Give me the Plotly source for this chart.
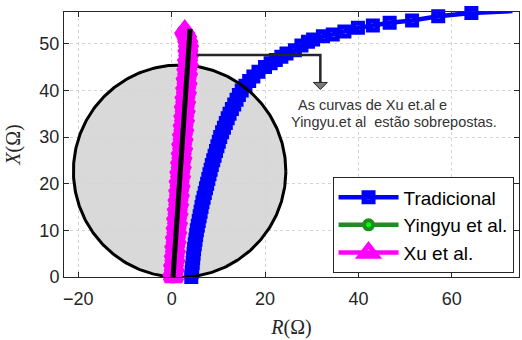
import numpy as np
import plotly.graph_objects as go

# Impedance trajectories seen by the relay (R, X in ohms)
trad_X = [0, 1, 2, 3, 4, 5, 6, 7, 8, 9, 10, 11, 12, 13, 14, 15, 16, 17, 18, 19,
          20, 21, 22, 23, 24, 25, 26, 27, 28, 29, 30, 31, 32, 33, 34, 35, 36, 37,
          38, 39, 40, 41, 42, 43, 44, 45, 45.8, 46.5, 47.2, 47.9, 48.6, 49.6,
          50.4, 50.9, 51.6, 52.0, 52.6, 53.4, 53.9, 54.5, 55.0, 55.9, 56.6, 57.0]
trad_R = [4.2, 4.3, 4.4, 4.5, 4.6, 4.7, 4.8, 4.95, 5.1, 5.25, 5.4, 5.6, 5.8, 6.0,
          6.2, 6.4, 6.6, 6.85, 7.1, 7.35, 7.6, 7.85, 8.1, 8.35, 8.6, 8.9, 9.2, 9.5,
          9.8, 10.1, 10.4, 10.8, 11.2, 11.6, 12.0, 12.4, 12.9, 13.4, 13.9, 14.4,
          15.0, 15.8, 16.6, 17.5, 18.6, 20.0, 21.2, 22.3, 23.5, 24.6, 26.4, 27.8,
          29.2, 30.3, 32.4, 34.5, 37.0, 39.9, 43.1, 46.7, 51.5, 57.1, 64.2, 73.0]

yingyu_X = [0, 2, 4, 6, 8, 10, 12, 14, 16, 18, 20, 22, 24, 26, 28, 30, 32, 34,
            36, 38, 40, 42, 44, 46, 48, 50, 52, 52.7]
yingyu_R = [0.3, 0.45, 0.6, 0.7, 0.85, 1.0, 1.1, 1.25, 1.4, 1.55, 1.65, 1.8,
            1.95, 2.1, 2.2, 2.35, 2.5, 2.6, 2.75, 2.9, 3.05, 3.15, 3.3, 3.45,
            3.55, 3.6, 3.3, 2.5]

xu_X = [0, 1, 2, 3, 4, 5, 6, 7, 8, 9, 10, 11, 12, 13, 14, 15, 16, 17, 18, 19,
        20, 21, 22, 23, 24, 25, 26, 27, 28, 29, 30, 31, 32, 33, 34, 35, 36, 37,
        38, 39, 40, 41, 42, 43, 44, 45, 46, 47, 48, 49, 50, 51, 52, 52.8]
xu_R = [0.4, 0.25, 0.55, 0.4, 0.7, 0.55, 0.8, 0.65, 0.95, 0.8, 1.1, 0.95, 1.25,
        1.05, 1.35, 1.2, 1.5, 1.35, 1.65, 1.5, 1.8, 1.6, 1.9, 1.75, 2.05, 1.9,
        2.2, 2.05, 2.35, 2.15, 2.45, 2.3, 2.6, 2.45, 2.75, 2.6, 2.9, 2.7, 3.0,
        2.85, 3.15, 3.0, 3.3, 3.1, 3.4, 3.25, 3.55, 3.4, 3.65, 3.5, 3.6, 3.45,
        3.2, 2.8]

# Protected line impedance
line_R = [0.3, 3.95]
line_X = [0.0, 53.2]

# Mho characteristic: reach (ohm) and characteristic angle (deg)
mho_reach = 45.5
mho_angle = 85.7

x_ticks = [-20, 0, 20, 40, 60]
y_ticks = [0, 10, 20, 30, 40, 50]

annot_lines = ["\u00a0As curvas de Xu et.al e", "Yingyu.et al\u00a0 estão sobrepostas."]

AX = "#262626"
SANS = "Liberation Sans, Arial, sans-serif"
SERIF = "Liberation Serif, Times New Roman, serif"

# circle geometry
ang = np.deg2rad(mho_angle)
cx = mho_reach / 2 * np.cos(ang)
cy = mho_reach / 2 * np.sin(ang)
rad = mho_reach / 2
th = np.linspace(0, 2 * np.pi, 361)
circ_R = cx + rad * np.cos(th)
circ_X = cy + rad * np.sin(th)

fig = go.Figure()

fig.add_shape(type="circle", xref="x", yref="y",
              x0=cx - rad, x1=cx + rad, y0=cy - rad, y1=cy + rad,
              fillcolor="#d9d9d9", line=dict(width=0), layer="below")

fig.add_trace(go.Scatter(
    x=trad_R, y=trad_X, name="Tradicional", mode="lines+markers",
    line=dict(color="#0000ff", width=4.5),
    marker=dict(symbol="square-open", size=9, color="#0000ff",
                line=dict(color="#0000ff", width=5)),
    cliponaxis=False))

fig.add_trace(go.Scatter(
    x=circ_R, y=circ_X, mode="lines", showlegend=False, hoverinfo="skip",
    line=dict(color="black", width=3)))

fig.add_trace(go.Scatter(
    x=yingyu_R, y=yingyu_X, name="Yingyu et al.", mode="lines+markers",
    line=dict(color="#228b22", width=4.5),
    marker=dict(symbol="circle", size=9, color="#00ff00",
                line=dict(color="#228b22", width=4)),
    cliponaxis=False))

fig.add_trace(go.Scatter(
    x=xu_R, y=xu_X, name="Xu et al.", mode="lines+markers",
    line=dict(color="#ff00ff", width=4.5),
    marker=dict(symbol="triangle-up-open", size=15, color="#ff00ff",
                line=dict(color="#ff00ff", width=5)),
    cliponaxis=False))

fig.add_trace(go.Scatter(
    x=line_R, y=line_X, mode="lines", showlegend=False, hoverinfo="skip",
    line=dict(color="black", width=5)))

# callout pointing at the overlapping curves
p0 = (5.3, 47.6)
pc = 31.85
tip = 40.2
base = 41.7
fig.add_shape(type="path", xref="x", yref="y",
              path=f"M {p0[0]},{p0[1]} L {pc},{p0[1]} L {pc},{base}",
              line=dict(color=AX, width=2.5))
fig.add_shape(type="path", xref="x", yref="y",
              path=f"M {pc-1.5},{base} L {pc+1.5},{base} L {pc},{tip} Z",
              fillcolor="#7a7a7a", line=dict(color=AX, width=1))

fig.add_annotation(x=25.8, y=36.9, xref="x", yref="y", text=annot_lines[0],
                   showarrow=False, xanchor="left", yanchor="middle",
                   font=dict(family=SANS, size=14.5, color="#333333"))
fig.add_annotation(x=25.2, y=33.2, xref="x", yref="y", text=annot_lines[1],
                   showarrow=False, xanchor="left", yanchor="middle",
                   font=dict(family=SANS, size=14.5, color="#333333"))

axis_common = dict(
    ticks="inside", ticklen=5, tickcolor=AX, tickwidth=1,
    showline=True, linecolor=AX, linewidth=1, mirror="ticks",
    showgrid=True, gridcolor="#d4d4d4", griddash="dot", gridwidth=1,
    zeroline=False, tickfont=dict(family=SANS, size=18, color=AX),
)

fig.update_xaxes(range=[-23.06, 74.4], tickvals=x_ticks, ticklabelstandoff=5,
                 title=dict(text="<i>R</i>(Ω)", font=dict(family=SERIF, size=20, color=AX),
                            standoff=12),
                 **axis_common)
fig.update_yaxes(range=[0, 56.8], tickvals=y_ticks,
                 title=dict(text="<i>X</i>(Ω)", font=dict(family=SERIF, size=20, color=AX),
                            standoff=13),
                 **axis_common)

fig.update_layout(
    width=522, height=340,
    margin=dict(l=64, r=3, t=12, b=63),
    paper_bgcolor="white", plot_bgcolor="white",
    font=dict(family=SANS),
    legend=dict(x=0.988, y=0.014, xanchor="right", yanchor="bottom",
                bgcolor="white", bordercolor=AX, borderwidth=1, itemwidth=60,
                font=dict(family=SANS, size=19, color="black")),
)

fig.write_html("out.html")
